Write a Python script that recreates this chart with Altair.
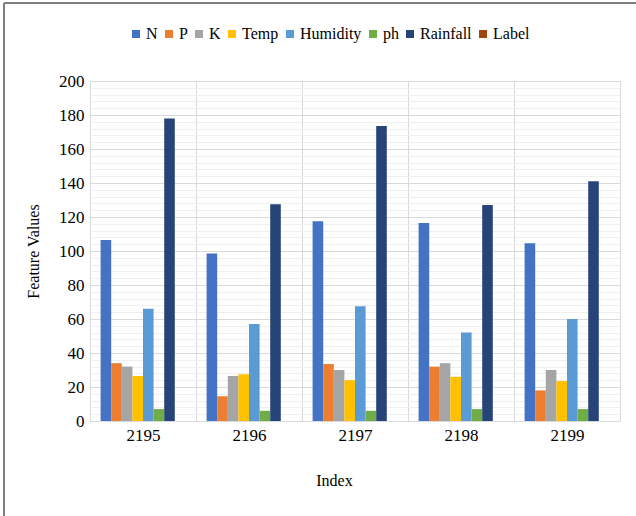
import altair as alt
import pandas as pd

indices = ["2195", "2196", "2197", "2198", "2199"]
features = ["N", "P", "K", "Temp", "Humidity", "ph", "Rainfall", "Label"]
colors = ["#4472C4", "#ED7D31", "#A5A5A5", "#FFC000", "#5B9BD5", "#70AD47", "#264478", "#9E480E"]

N = [106.5, 98.5, 117.5, 116.5, 104.5]
P = [34, 14.5, 33.5, 32, 18]
K = [32, 26.5, 30, 34, 30]
Temp = [26.5, 27.5, 24, 26, 23.5]
Humidity = [66, 57, 67.5, 52, 60]
ph = [7, 6, 6, 7, 7]
Rainfall = [178, 127.5, 173.5, 127, 141]
Label = [0, 0, 0, 0, 0]

series = {"N": N, "P": P, "K": K, "Temp": Temp, "Humidity": Humidity,
          "ph": ph, "Rainfall": Rainfall, "Label": Label}

rows = []
for i, idx in enumerate(indices):
    for f in features:
        rows.append({"Index": idx, "Feature": f, "Value": series[f][i]})
df = pd.DataFrame(rows)

FONT = "Liberation Serif"

bars = alt.Chart(df).mark_bar().encode(
    x=alt.X("Index:N", sort=indices,
            scale=alt.Scale(paddingInner=0, paddingOuter=0),
            axis=alt.Axis(title="Index", tickBand="extent", grid=True, ticks=False,
                          labelAngle=0, labelPadding=6, labelFontSize=17, labelFont=FONT,
                          labelColor="#000000", titleColor="#000000", titleFont=FONT,
                          gridColor="#d9d9d9", domainColor="#d9d9d9",
                          titleX=244, titleY=59, titleBaseline="middle",
                          titleFontSize=16, titleFontWeight="normal")),
    xOffset=alt.XOffset("Feature:N", sort=features,
                        scale=alt.Scale(domain=features, paddingInner=0, paddingOuter=1)),
    y=alt.Y("Value:Q", scale=alt.Scale(domain=[0, 200], nice=False),
            axis=alt.Axis(title="Feature Values", values=list(range(0, 201, 4)),
                          labelExpr="datum.value % 20 === 0 ? datum.label : ''",
                          gridColor={"condition": {"test": "datum.value % 20 === 0", "value": "#d9d9d9"},
                                     "value": "#efefef"},
                          ticks=False, domain=False, labelPadding=6, labelFontSize=17,
                          labelFont=FONT, labelColor="#000000", titleColor="#000000",
                          titleFont=FONT,
                          titleX=-57, titleY=170, titleBaseline="middle",
                          titleFontSize=16, titleFontWeight="normal")),
    color=alt.Color("Feature:N", sort=features,
                    scale=alt.Scale(domain=features, range=colors),
                    legend=alt.Legend(title=None, orient="none", direction="horizontal",
                                      columns=8, legendX=38, legendY=-55,
                                      symbolType="square", symbolSize=64,
                                      symbolStrokeWidth=0, labelFontSize=16,
                                      labelFont=FONT, labelColor="#000000",
                                      labelOffset=2, columnPadding=3)),
)

frame_v = alt.Chart(alt.Data(values=[{"a": 1}])).mark_rule(color="#7f7f7f", strokeWidth=2).encode(
    x=alt.value(-86), y=alt.value(-78), y2=alt.value(435))
frame_h = alt.Chart(alt.Data(values=[{"a": 1}])).mark_rule(color="#7f7f7f", strokeWidth=2).encode(
    x=alt.value(-86), x2=alt.value(546), y=alt.value(-78))

chart = alt.layer(bars, frame_v, frame_h).properties(
    width=530, height=340,
    autosize=alt.AutoSizeParams(type="none"),
    padding={"left": 90, "top": 81, "right": 16, "bottom": 95},
).configure_view(stroke=None)

chart.save("out.html", embed_options={"renderer": "svg", "actions": False})
